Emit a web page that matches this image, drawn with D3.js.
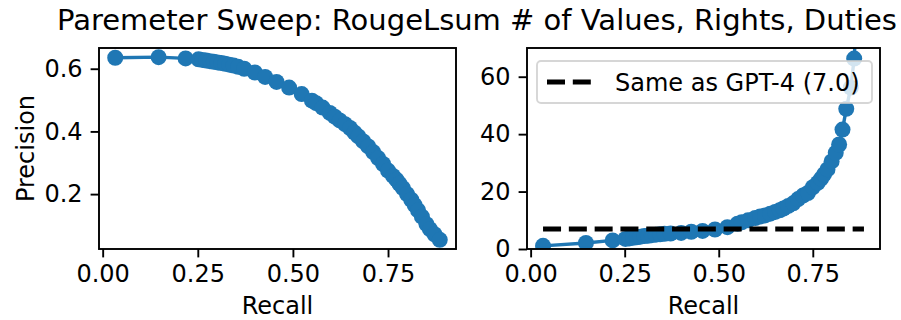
<!DOCTYPE html>
<html>
<head>
<meta charset="utf-8">
<script src="https://cdn.jsdelivr.net/npm/d3@7"></script>
<style>
  html, body { margin: 0; padding: 0; background: #fff; }
  svg { display: block; font-family: "DejaVu Sans", sans-serif; }
</style>
</head>
<body>
<svg id="chart" width="901" height="320"></svg>
<script>
// Threshold sweep: recall, precision and the number of extracted values/rights/duties
const recall = [0.033, 0.147, 0.218, 0.252, 0.262, 0.272, 0.282, 0.292, 0.302, 0.312,
  0.322, 0.333, 0.344, 0.356, 0.372, 0.400, 0.427, 0.457, 0.490, 0.523,
  0.550, 0.561, 0.578, 0.597, 0.610, 0.623, 0.637, 0.650, 0.662, 0.672, 0.685,
  0.698, 0.711, 0.724, 0.737, 0.750, 0.763, 0.772, 0.780, 0.789, 0.800,
  0.811, 0.820, 0.829, 0.839, 0.851, 0.860, 0.872, 0.886];
const precision = [0.635, 0.637, 0.633, 0.630, 0.628, 0.626, 0.624, 0.622, 0.620, 0.618,
  0.616, 0.613, 0.610, 0.606, 0.600, 0.588, 0.574, 0.558, 0.540, 0.519,
  0.498, 0.490, 0.476, 0.459, 0.447, 0.435, 0.423, 0.411, 0.396, 0.384, 0.368,
  0.352, 0.334, 0.315, 0.296, 0.275, 0.258, 0.246, 0.233, 0.219, 0.200,
  0.182, 0.165, 0.148, 0.128, 0.104, 0.088, 0.072, 0.054];
const numValues = [1.1, 2.1, 3.0, 3.5, 3.7, 3.9, 4.1, 4.3, 4.5, 4.6,
  4.8, 5.0, 5.1, 5.3, 5.4, 5.6, 6.0, 6.3, 6.8, 7.6,
  8.8, 9.3, 10.0, 10.8, 11.3, 11.7, 12.3, 12.9, 13.5, 14.1, 15.0,
  15.9, 17.4, 18.6, 19.5, 21.5, 23.0, 24.5, 26.0, 27.7, 30.5,
  33.5, 36.4, 41.6, 48.8, 56.2, 66.3, 95, 160];
const gpt4Count = 7.0;

const xTicks = [0.00, 0.25, 0.50, 0.75];
const precisionTicks = [0.2, 0.4, 0.6];
const valueTicks = [0, 20, 40, 60];

const titleText = "Paremeter Sweep: RougeLsum # of Values, Rights, Duties";
const legendText = "Same as GPT-4 (7.0)";

const blue = "#1f77b4";
const svg = d3.select("#chart");

// padded extent, like an auto-scaled axis
function padded(values, frac = 0.05) {
  const [lo, hi] = d3.extent(values);
  const m = (hi - lo) * frac;
  return [lo - m, hi + m];
}

const panels = [
  { left: 99, right: 456, top: 48, bottom: 249, y: precision,
    yDomain: padded(precision), yTicks: precisionTicks, yFmt: d3.format(".1f"),
    yLabel: "Precision", id: "p1" },
  { left: 527, right: 880, top: 48, bottom: 249, y: numValues,
    yDomain: [0, 70], yTicks: valueTicks, yFmt: d3.format("d"),
    yLabel: null, id: "p2", refLine: gpt4Count }
];

panels.forEach(p => {
  const x = d3.scaleLinear().domain(padded(recall)).range([p.left, p.right]);
  const y = d3.scaleLinear().domain(p.yDomain).range([p.bottom, p.top]);

  svg.append("clipPath").attr("id", "clip-" + p.id)
    .append("rect").attr("x", p.left).attr("y", p.top)
    .attr("width", p.right - p.left).attr("height", p.bottom - p.top);

  const plot = svg.append("g").attr("clip-path", `url(#clip-${p.id})`);
  const pts = recall.map((r, i) => [r, p.y[i]]);

  plot.append("path")
    .datum(pts)
    .attr("fill", "none").attr("stroke", blue).attr("stroke-width", 3.4)
    .attr("d", d3.line().x(d => x(d[0])).y(d => y(d[1])));

  plot.selectAll("circle").data(pts).join("circle")
    .attr("cx", d => x(d[0])).attr("cy", d => y(d[1])).attr("r", 8)
    .attr("fill", blue);

  if (p.refLine !== undefined) {
    plot.append("path")
      .datum(d3.extent(recall))
      .attr("fill", "none").attr("stroke", "#000").attr("stroke-width", 5)
      .attr("stroke-dasharray", "18,7.8")
      .attr("d", d => d3.line()([[x(d[0]), y(p.refLine)], [x(d[1]), y(p.refLine)]]));
  }

  // axes
  const xAxis = svg.append("g").attr("transform", `translate(0,${p.bottom})`)
    .call(d3.axisBottom(x).tickValues(xTicks).tickFormat(d3.format(".2f"))
      .tickSizeInner(8.4).tickSizeOuter(0).tickPadding(8));
  const yAxis = svg.append("g").attr("transform", `translate(${p.left},0)`)
    .call(d3.axisLeft(y).tickValues(p.yTicks).tickFormat(p.yFmt)
      .tickSizeInner(8.4).tickSizeOuter(0).tickPadding(8));
  [xAxis, yAxis].forEach(a => {
    a.select(".domain").remove();
    a.selectAll(".tick line").attr("stroke", "#000").attr("stroke-width", 1.9);
    a.selectAll(".tick text").attr("fill", "#000")
      .style("font-size", "24px").style("font-family", "DejaVu Sans");
  });

  // frame
  svg.append("rect").attr("x", p.left).attr("y", p.top)
    .attr("width", p.right - p.left).attr("height", p.bottom - p.top)
    .attr("fill", "none").attr("stroke", "#000").attr("stroke-width", 1.9);

  svg.append("text").attr("x", (p.left + p.right) / 2).attr("y", 314)
    .attr("text-anchor", "middle").style("font-size", "24px").text("Recall");

  if (p.yLabel) {
    svg.append("text")
      .attr("transform", `translate(34,${(p.top + p.bottom) / 2}) rotate(-90)`)
      .attr("text-anchor", "middle").style("font-size", "24px").text(p.yLabel);
  }

  if (p.refLine !== undefined) {
    const lg = svg.append("g");
    lg.append("rect").attr("x", 537).attr("y", 61).attr("width", 335).attr("height", 42)
      .attr("rx", 4).attr("fill", "#fff").attr("fill-opacity", 0.8)
      .attr("stroke", "#ccc").attr("stroke-opacity", 0.8).attr("stroke-width", 1.9);
    lg.append("line").attr("x1", 547).attr("x2", 591).attr("y1", 82).attr("y2", 82)
      .attr("stroke", "#000").attr("stroke-width", 5).attr("stroke-dasharray", "18,7.8");
    lg.append("text").attr("x", 615).attr("y", 90.5).style("font-size", "24px").text(legendText);
  }
});

svg.append("text").attr("x", 477).attr("y", 30).attr("text-anchor", "middle")
  .style("font-size", "29px").text(titleText);
</script>
</body>
</html>
